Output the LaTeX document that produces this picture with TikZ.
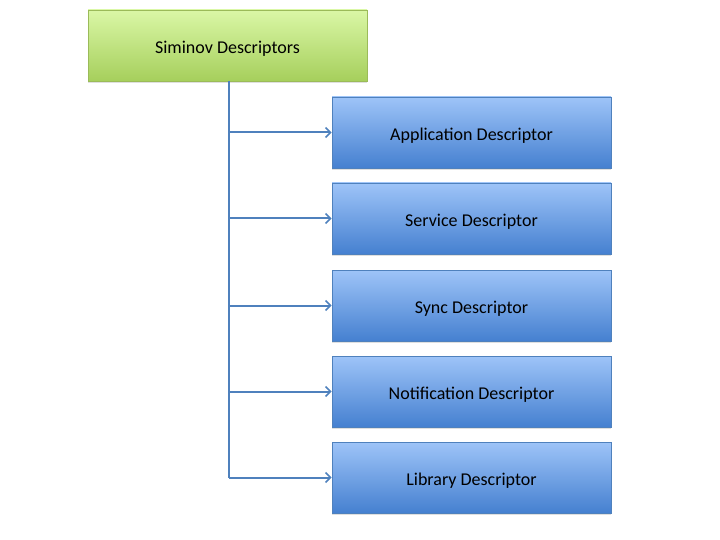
\documentclass[tikz,border=0pt]{standalone}
\usepackage{fontspec}
\setmainfont{Carlito}
\usetikzlibrary{arrows.meta,shadows}
\definecolor{gtop}{HTML}{DAF7A6}
\definecolor{gbot}{HTML}{A6CF5C}
\definecolor{gline}{HTML}{9BBB59}
\definecolor{btop}{HTML}{9EC4F8}
\definecolor{bbot}{HTML}{4580D0}
\definecolor{bline}{HTML}{4F81BD}
\definecolor{conn}{HTML}{4F81BD}
\tikzset{
  boxbase/.style={line width=0.8pt, minimum width=279pt, minimum height=71pt, inner sep=0pt, text height=16pt, text depth=0pt, font=\fontsize{18}{21}\selectfont, drop shadow={shadow xshift=0pt, shadow yshift=-2pt, opacity=0.25}},
  greenbox/.style={boxbase, draw=gline, top color=gtop, bottom color=gbot},
  bluebox/.style={boxbase, draw=bline, top color=btop, bottom color=bbot},
  connector/.style={draw=conn, line width=2pt},
  arrowconn/.style={connector, -{Straight Barb[length=5pt, width=10pt, line width=1.5pt]}}
}
\begin{document}
\begin{tikzpicture}[x=1pt,y=-1pt]
\useasboundingbox (0,0) rectangle (720,540);
\node[greenbox] (root) at (227.5,45.5) {Siminov Descriptors};
\node[bluebox] (b1) at (471.5,132.5) {Application Descriptor};
\node[bluebox] (b2) at (471.5,218.5) {Service Descriptor};
\node[bluebox] (b3) at (471.5,305.5) {Sync Descriptor};
\node[bluebox] (b4) at (471.5,391.5) {Notification Descriptor};
\node[bluebox] (b5) at (471.5,477.5) {Library Descriptor};
\coordinate (top) at (229,81);
\coordinate (j1) at (229,132.5);
\coordinate (j2) at (229,218.5);
\coordinate (j3) at (229,305.5);
\coordinate (j4) at (229,391.5);
\coordinate (j5) at (229,477.5);
\draw[connector] (top) -- (j5);
\draw[arrowconn] (j1) -- (b1.west);
\draw[arrowconn] (j2) -- (b2.west);
\draw[arrowconn] (j3) -- (b3.west);
\draw[arrowconn] (j4) -- (b4.west);
\draw[arrowconn] (j5) -- (b5.west);
\end{tikzpicture}
\end{document}
